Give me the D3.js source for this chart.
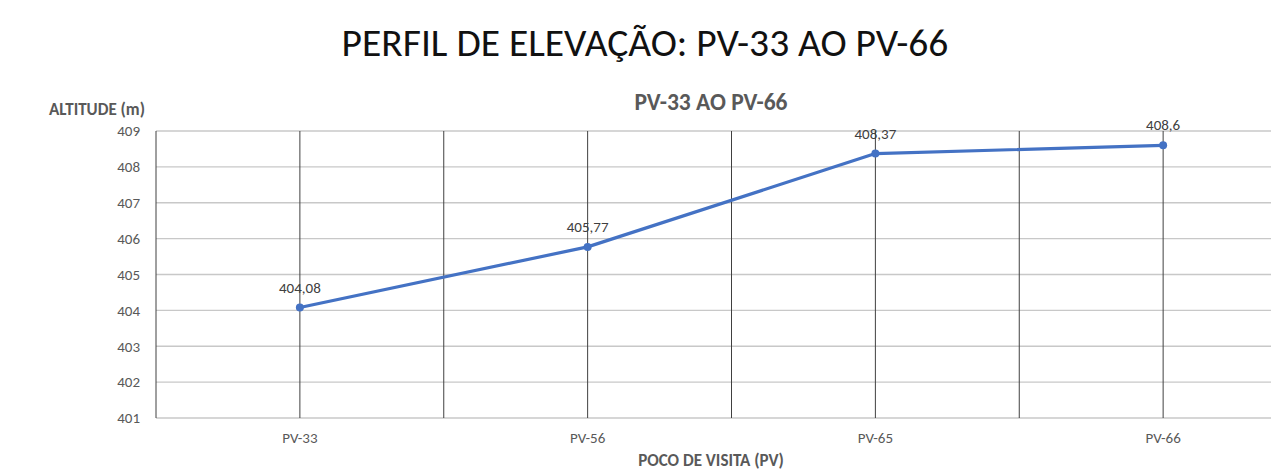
<!DOCTYPE html>
<html>
<head>
<meta charset="utf-8">
<script src="https://cdn.jsdelivr.net/npm/d3@7"></script>
<style>
    body { margin: 0; background: #fff; }
    svg { display: block; font-family: Carlito, "Open Sans", sans-serif; }
</style>
</head>
<body>
<div id="chart"></div>
<script>
// Data
const categories = ["PV-33", "PV-56", "PV-65", "PV-66"];
const altitudes = [404.08, 405.77, 408.37, 408.6];
const labels = ["404,08", "405,77", "408,37", "408,6"];
const yTicks = [401, 402, 403, 404, 405, 406, 407, 408, 409];

// Size
const W = 1271, H = 472;
const m = { top: 131, left: 156, bottom: 418, right: 1307 };
const gray = "#595959";
const blue = "#4472c4";
const ff = 'Carlito, "Open Sans", sans-serif';

const svg = d3.select("#chart")
    .append("svg")
    .attr("width", W)
    .attr("height", H);

// Page title
svg.append("text")
    .attr("x", 645)
    .attr("y", 56)
    .attr("text-anchor", "middle")
    .attr("font-size", 39.5)
    .attr("fill", "#111")
    .text("PERFIL DE ELEVAÇÃO: PV-33 AO PV-66");

// Scales
const x = d3.scaleBand().domain(categories).range([m.left, m.right]);
const y = d3.scaleLinear().domain([401, 409]).range([m.bottom, m.top]);
const cx = (d) => x(d) + x.bandwidth() / 2;

// Horizontal grid
svg.append("g")
    .selectAll("line")
    .data(yTicks)
    .join("line")
    .attr("x1", m.left)
    .attr("x2", m.right)
    .attr("y1", (d) => y(d))
    .attr("y2", (d) => y(d))
    .attr("stroke", "#c8c8c8")
    .attr("stroke-width", 1.3);

// Vertical lines (band edges and centers)
const vx = [];
categories.forEach((c) => { vx.push(x(c)); vx.push(cx(c)); });
svg.append("g")
    .selectAll("line")
    .data(vx)
    .join("line")
    .attr("x1", (d) => d)
    .attr("x2", (d) => d)
    .attr("y1", y(409))
    .attr("y2", y(401))
    .attr("stroke", "#404040")
    .attr("stroke-width", 1);

// Y axis labels
svg.append("g")
    .attr("transform", `translate(${m.left - 13}, 0)`)
    .call(d3.axisLeft(y).tickValues(yTicks).tickSize(0).tickFormat(d3.format("d")))
    .call((g) => g.select(".domain").remove())
    .selectAll("text")
    .attr("font-size", 15)
    .attr("font-family", ff)
    .attr("fill", gray);

// X axis labels
svg.append("g")
    .attr("transform", `translate(0, ${m.bottom + 11})`)
    .call(d3.axisBottom(x).tickSize(0))
    .call((g) => g.select(".domain").remove())
    .selectAll("text")
    .attr("font-size", 15)
    .attr("font-family", ff)
    .attr("fill", gray);

// Chart title
svg.append("text")
    .attr("x", 711)
    .attr("y", 110)
    .attr("text-anchor", "middle")
    .attr("font-size", 23.5)
    .attr("font-weight", "bold")
    .attr("fill", gray)
    .text("PV-33 AO PV-66");

// Axis titles
svg.append("text")
    .attr("x", 97)
    .attr("y", 115)
    .attr("text-anchor", "middle")
    .attr("font-size", 17)
    .attr("font-weight", "bold")
    .attr("fill", gray)
    .text("ALTITUDE (m)");

svg.append("text")
    .attr("x", 711)
    .attr("y", 466)
    .attr("text-anchor", "middle")
    .attr("font-size", 17)
    .attr("font-weight", "bold")
    .attr("fill", gray)
    .text("POCO DE VISITA (PV)");

// Line
const pts = categories.map((c, i) => ({ c: c, v: altitudes[i], l: labels[i] }));
svg.append("path")
    .datum(pts)
    .attr("fill", "none")
    .attr("stroke", blue)
    .attr("stroke-width", 3.2)
    .attr("stroke-linejoin", "round")
    .attr("d", d3.line().x((d) => cx(d.c)).y((d) => y(d.v)));

svg.append("g")
    .selectAll("circle")
    .data(pts)
    .join("circle")
    .attr("cx", (d) => cx(d.c))
    .attr("cy", (d) => y(d.v))
    .attr("r", 4)
    .attr("fill", blue);

// Data labels
svg.append("g")
    .selectAll("text")
    .data(pts)
    .join("text")
    .attr("x", (d) => cx(d.c))
    .attr("y", (d) => y(d.v) - 15)
    .attr("text-anchor", "middle")
    .attr("font-size", 15)
    .attr("fill", "#404040")
    .text((d) => d.l);
</script>
</body>
</html>
